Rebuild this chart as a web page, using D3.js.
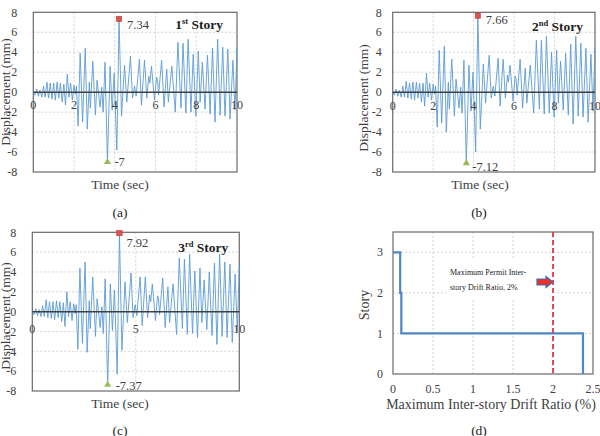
<!DOCTYPE html>
<html><head><meta charset="utf-8">
<script src="https://cdn.jsdelivr.net/npm/d3@7"></script>
<style>body{margin:0;background:#fff}svg{display:block}text{font-family:"Liberation Serif","Times New Roman",serif}</style>
</head><body>
<svg id="c" width="600" height="436"></svg>
<script>
// ---- data ----
const times = [0.00,0.08,0.17,0.25,0.33,0.42,0.50,0.58,0.67,0.75,0.83,0.92,1.00,1.08,1.17,1.25,1.33,1.42,1.50,1.58,1.67,1.75,1.83,1.92,2.00,2.07,2.12,2.20,2.30,2.42,2.55,2.65,2.75,2.80,2.92,3.05,3.13,3.28,3.36,3.43,3.52,3.64,3.77,3.87,3.97,4.10,4.21,4.33,4.48,4.59,4.77,4.87,4.97,5.05,5.21,5.31,5.46,5.57,5.67,5.72,5.80,5.95,6.05,6.10,6.15,6.30,6.42,6.55,6.63,6.80,6.97,7.10,7.25,7.35,7.49,7.60,7.74,7.85,7.98,8.10,8.19,8.30,8.43,8.55,8.68,8.80,8.92,9.05,9.17,9.30,9.41,9.55,9.66,9.80,9.90,10.00];
const story1 = [0,-0.3,0.3,-0.4,0.2,-0.5,0.6,-0.5,1.0,-0.6,0.9,-0.7,0.9,-0.8,1.0,-0.6,0.9,-1.0,0.8,-1.3,1.8,-0.5,0.9,-0.8,0.7,-0.2,0.6,-3.4,3.9,-3.0,4.4,-3.7,1.0,-1.6,3.1,-2.3,1.2,-1.5,0.5,-2.0,3.0,-7.0,2.6,-1.8,1.9,-5.8,7.34,-2.4,2.7,-1.0,3.6,-0.6,0.6,-0.4,3.3,-1.3,3.2,-0.6,1.6,0.9,2.6,-0.8,1.5,1.2,-0.3,3.2,-1.5,2.3,-1.0,2.6,-2.0,5.0,-1.6,4.9,-2.1,5.3,-2.0,3.8,-2.4,4.1,-1.0,3.0,-1.7,3.7,-2.2,4.4,-3.0,5.3,-2.3,4.5,-2.4,4.3,-2.7,3.2,-1.8,4.4];
const story2 = [0,-0.3,0.3,-0.4,0.2,-0.5,0.6,-0.5,1.1,-0.6,0.9,-0.7,1.0,-0.8,1.0,-0.6,0.9,-1.0,0.9,-1.4,1.9,-0.5,0.9,-0.8,0.8,-0.2,0.6,-3.5,4.2,-3.1,4.6,-4.0,1.0,-1.7,3.3,-2.4,1.3,-1.6,0.5,-2.1,3.2,-7.12,2.7,-1.9,2.0,-6.0,7.66,-3.7,2.8,-1.1,3.7,-0.6,0.6,-0.4,3.4,-1.4,3.3,-0.6,1.7,1.0,2.7,-0.9,1.6,1.3,-0.3,3.3,-1.6,2.4,-1.1,2.7,-2.1,5.2,-1.7,5.2,-2.2,5.6,-2.1,4.0,-2.5,4.2,-1.1,3.1,-1.8,3.9,-2.3,4.8,-3.2,5.6,-2.4,4.9,-2.5,4.4,-3.0,3.8,-1.9,4.4];
const story3 = [0,-0.3,0.3,-0.4,0.2,-0.5,0.6,-0.5,1.2,-0.6,1.0,-0.7,1.0,-0.8,1.1,-0.6,1.0,-1.0,0.9,-1.5,2.0,-0.5,1.0,-0.9,0.8,-0.2,0.7,-3.8,4.4,-3.2,5.0,-4.1,1.1,-1.7,3.5,-2.5,1.3,-1.6,0.5,-2.2,3.3,-7.37,2.8,-1.9,2.2,-6.3,7.92,-3.9,3.0,-1.1,3.9,-0.6,0.7,-0.4,3.5,-1.4,3.5,-0.6,1.7,1.0,2.8,-0.9,1.6,1.3,-0.3,3.4,-1.6,2.5,-1.1,2.8,-2.3,5.4,-1.7,5.3,-2.3,5.8,-2.2,4.1,-2.6,4.4,-1.1,3.2,-1.8,4.0,-2.4,4.9,-3.3,5.8,-2.5,5.0,-2.6,4.8,-3.1,3.8,-2.0,4.7];
const timeTicksAB = [0,2,4,6,8,10];
const timeTicksC = [0,5,10];
const dispTicks = [-8,-6,-4,-2,0,2,4,6,8];
const storyNames = ["1st Story","2nd Story","3rd Story"];
const captions = ["(a)","(b)","(c)","(d)"];
// panel (d)
const storyLevels = [3,2,1,0];
const maxDrift = [0.09,0.104,2.375]; // story 3, 2, 1
const permitDrift = 2;
const driftTicks = [0,0.5,1,1.5,2,2.5];
const storyTicks = [0,1,2,3];

// ---- drawing ----
const svg = d3.select("#c");
const gridStyle = s => s.attr("stroke","#c8c8c8").attr("stroke-width",0.8).attr("stroke-dasharray","2,2");

function tsPanel(cfg){
  const g = svg.append("g");
  const x = d3.scaleLinear().domain([0,10]).range([cfg.left,cfg.right]);
  const y = d3.scaleLinear().domain([-8,8]).range([cfg.bottom,cfg.top]);
  g.selectAll(".gy").data(dispTicks.filter(d=>d!==0 && d!==-8 && d!==8)).join("line")
    .attr("x1",cfg.left).attr("x2",cfg.right).attr("y1",d=>y(d)).attr("y2",d=>y(d)).call(gridStyle);
  g.selectAll(".gx").data(cfg.xTicks.filter(d=>d>0 && d<10)).join("line")
    .attr("x1",d=>x(d)).attr("x2",d=>x(d)).attr("y1",cfg.top).attr("y2",cfg.bottom).call(gridStyle);
  g.append("rect").attr("x",cfg.left).attr("y",cfg.top).attr("width",cfg.right-cfg.left).attr("height",cfg.bottom-cfg.top)
    .attr("fill","none").attr("stroke","#6a6a6a").attr("stroke-width",1.2);
  const line = d3.line().x((d,i)=>x(times[i])).y(d=>y(d));
  g.append("path").datum(cfg.values).attr("d",line).attr("fill","none").attr("stroke","#5b9bd5").attr("stroke-width",0.9);
  g.append("line").attr("x1",cfg.left).attr("x2",cfg.right).attr("y1",y(0)).attr("y2",y(0)).attr("stroke","#404040").attr("stroke-width",1.5);
  g.selectAll(".yl").data(dispTicks).join("text").attr("x",cfg.left-cfg.yLabOff).attr("y",d=>y(d)).attr("dy","0.35em")
    .attr("text-anchor","end").attr("font-size",12).attr("fill","#404040").text(d=>d);
  g.selectAll(".xl").data(cfg.xTicks).join("text").attr("x",d=>x(d)).attr("y",y(0)+cfg.xLabOff).attr("dy","0.35em")
    .attr("text-anchor","middle").attr("font-size",12).attr("fill","#404040").text(d=>d);
  const vals = cfg.values;
  const iMax = d3.maxIndex(vals), iMin = d3.minIndex(vals);
  g.append("rect").attr("x",x(times[iMax])-2.7).attr("y",y(vals[iMax])-2.7).attr("width",5.4).attr("height",5.4).attr("fill","#d9534f").attr("stroke","#c0392b").attr("stroke-width",0.5);
  g.append("path").attr("d",d3.symbol(d3.symbolTriangle,22)()).attr("transform",`translate(${x(times[iMin])},${y(vals[iMin])})`).attr("fill","#9bbb59");
  g.append("text").attr("x",x(times[iMax])+cfg.maxDx).attr("y",y(vals[iMax])+cfg.maxDy).attr("dy","0.35em").attr("font-size",12.5).attr("fill","#404040").text(vals[iMax]);
  g.append("text").attr("x",x(times[iMin])+cfg.minDx).attr("y",y(vals[iMin])+cfg.minDy).attr("dy","0.35em").attr("font-size",12.5).attr("fill","#404040").text(vals[iMin]);
  const parts = cfg.story.match(/^(\d)(\w\w) (.*)$/);
  const st = g.append("text").attr("x",cfg.right-cfg.storyInset).attr("y",y(cfg.storyY)).attr("dy","0.35em").attr("text-anchor","end")
    .attr("font-size",13.5).attr("font-weight","bold").attr("fill","#222");
  st.append("tspan").text(parts[1]);
  st.append("tspan").attr("font-size",8.5).attr("baseline-shift","super").text(parts[2]);
  st.append("tspan").text(" "+parts[3]);
  g.append("text").attr("transform",`translate(${cfg.yTitleX},${cfg.yTitleY}) rotate(-90)`).attr("dy","0.35em").attr("text-anchor","middle")
    .attr("font-size",13.5).attr("fill","#404040").text("Displacement (mm)");
  g.append("text").attr("x",cfg.xTitleX).attr("y",cfg.xTitleY).attr("dy","0.35em").attr("text-anchor","middle")
    .attr("font-size",13.5).attr("fill","#404040").text("Time (sec)");
  g.append("text").attr("x",cfg.capX).attr("y",cfg.capY).attr("dy","0.35em").attr("text-anchor","middle")
    .attr("font-size",13.5).attr("fill","#222").text(cfg.caption);
}

tsPanel({left:33.3,right:237,top:12.3,bottom:172,values:story1,xTicks:timeTicksAB,yLabOff:16,xLabOff:13,
  maxDx:8,maxDy:6,minDx:7,minDy:0,story:storyNames[0],storyInset:14,storyY:6.8,
  yTitleX:5.5,yTitleY:92,xTitleX:120,xTitleY:184,capX:120,capY:212,caption:captions[0]});
tsPanel({left:392.7,right:595,top:12.3,bottom:172,values:story2,xTicks:timeTicksAB,yLabOff:11,xLabOff:14,
  maxDx:8,maxDy:4,minDx:6,minDy:3,story:storyNames[1],storyInset:12,storyY:6.6,
  yTitleX:363,yTitleY:98,xTitleX:480,xTitleY:184,capX:479,capY:212,caption:captions[1]});
tsPanel({left:32.3,right:239.3,top:232.3,bottom:391,values:story3,xTicks:timeTicksC,yLabOff:16,xLabOff:17,
  maxDx:7,maxDy:10,minDx:8,minDy:1,story:storyNames[2],storyInset:11,storyY:6.5,
  yTitleX:5,yTitleY:316,xTitleX:120,xTitleY:403,capX:120,capY:430,caption:captions[2]});

// ---- panel (d) ----
(function(){
  const L=393,R=593,T=232,B=374;
  const g = svg.append("g");
  const x = d3.scaleLinear().domain([0,2.5]).range([L,R]);
  const y = d3.scaleLinear().domain([0,3.5]).range([B,T]);
  g.selectAll(".gx").data(driftTicks.filter(d=>d>0&&d<2.5)).join("line")
    .attr("x1",d=>x(d)).attr("x2",d=>x(d)).attr("y1",T).attr("y2",B).call(gridStyle);
  g.selectAll(".gy").data(storyTicks.filter(d=>d>0)).join("line")
    .attr("x1",L).attr("x2",R).attr("y1",d=>y(d)).attr("y2",d=>y(d)).call(gridStyle);
  g.append("rect").attr("x",446).attr("y",260).attr("width",109).attr("height",38).attr("fill","#fff");
  g.append("rect").attr("x",L).attr("y",T).attr("width",R-L).attr("height",B-T).attr("fill","none").attr("stroke","#6a6a6a").attr("stroke-width",1.2);
  const pts = [[0,storyLevels[0]]].concat(maxDrift.map((d,i)=>[d,storyLevels[i+1]]));
  g.append("path").datum(pts).attr("d",d3.line().x(d=>x(d[0])).y(d=>y(d[1])).curve(d3.curveStepAfter))
    .attr("fill","none").attr("stroke","#4f86c6").attr("stroke-width",2.2);
  g.append("line").attr("x1",x(permitDrift)).attr("x2",x(permitDrift)).attr("y1",T).attr("y2",B)
    .attr("stroke","#e0393e").attr("stroke-width",1.8).attr("stroke-dasharray","5,3");
  const ax = x(permitDrift), ay = 282;
  g.append("path").attr("d",`M${ax-16},${ay-3}L${ax-7},${ay-3}L${ax-7},${ay-5.5}L${ax},${ay}L${ax-7},${ay+5.5}L${ax-7},${ay+3}L${ax-16},${ay+3}Z`)
    .attr("fill","#e8312a").attr("stroke","#3f6fb6").attr("stroke-width",1.2);
  g.append("text").attr("x",450).attr("y",275).attr("font-size",8).attr("fill","#222").text("Maximum Permit Inter-");
  g.append("text").attr("x",450).attr("y",290).attr("font-size",8).attr("fill","#222").text("story Drift Ratio, 2%");
  g.selectAll(".yl").data(storyTicks).join("text").attr("x",383).attr("y",d=>y(d)).attr("dy","0.35em").attr("text-anchor","end")
    .attr("font-size",12).attr("fill","#404040").text(d=>d);
  g.selectAll(".xl").data(driftTicks).join("text").attr("x",d=>x(d)).attr("y",389).attr("dy","0.35em").attr("text-anchor","middle")
    .attr("font-size",12).attr("fill","#404040").text(d=>d);
  g.append("text").attr("transform","translate(364,305) rotate(-90)").attr("dy","0.35em").attr("text-anchor","middle")
    .attr("font-size",14).attr("fill","#404040").text("Story");
  g.append("text").attr("x",491).attr("y",404).attr("dy","0.35em").attr("text-anchor","middle")
    .attr("font-size",14).attr("fill","#404040").text("Maximum Inter-story Drift Ratio (%)");
  g.append("text").attr("x",479).attr("y",430).attr("dy","0.35em").attr("text-anchor","middle")
    .attr("font-size",13.5).attr("fill","#222").text(captions[3]);
})();
</script>
</body></html>
